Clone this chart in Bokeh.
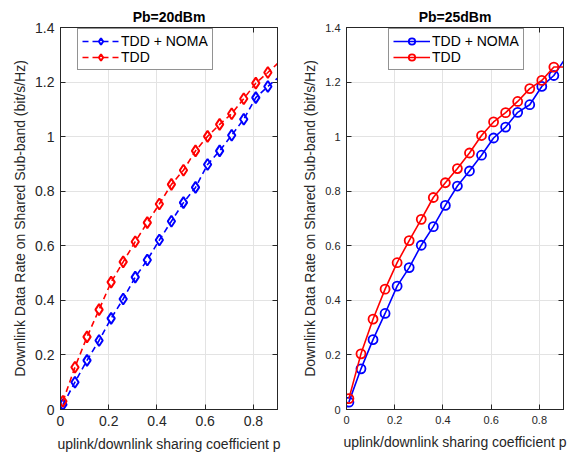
from bokeh.plotting import figure
from bokeh.layouts import row
from bokeh.models import Range1d, FixedTicker, LinearAxis, Legend, LegendItem, Title
from bokeh.embed import file_html
from bokeh.resources import INLINE

# ---------------- data ----------------
p_coef = [0.01, 0.06, 0.11, 0.16, 0.21, 0.26, 0.31, 0.36, 0.41, 0.46,
          0.51, 0.56, 0.61, 0.66, 0.71, 0.76, 0.81, 0.86, 0.91]

# Pb = 20 dBm
noma_20 = [0.018, 0.100, 0.180, 0.253, 0.334, 0.405, 0.485, 0.548, 0.621, 0.690,
           0.758, 0.814, 0.898, 0.948, 1.005, 1.064, 1.143, 1.184, 1.222]
tdd_20 = [0.030, 0.155, 0.266, 0.366, 0.467, 0.541, 0.615, 0.685, 0.753, 0.825,
          0.877, 0.948, 1.001, 1.045, 1.084, 1.139, 1.196, 1.235, 1.276]

# Pb = 25 dBm
noma_25 = [0.027, 0.149, 0.256, 0.352, 0.452, 0.520, 0.602, 0.670, 0.748, 0.819,
           0.874, 0.932, 0.995, 1.035, 1.089, 1.117, 1.184, 1.224, 1.290]
tdd_25 = [0.040, 0.204, 0.331, 0.441, 0.538, 0.619, 0.697, 0.777, 0.831, 0.883,
          0.940, 1.004, 1.054, 1.088, 1.129, 1.176, 1.206, 1.255, 1.255]

x_ticks = [0, 0.2, 0.4, 0.6, 0.8]
x_tick_labels = ["0", "0.2", "0.4", "0.6", "0.8"]
y_ticks = [0, 0.2, 0.4, 0.6, 0.8, 1.0, 1.2, 1.4]
y_tick_labels = ["0", "0.2", "0.4", "0.6", "0.8", "1", "1.2", "1.4"]

titles = ["Pb=20dBm", "Pb=25dBm"]
series_names = ["TDD + NOMA", "TDD"]
x_label = "uplink/downlink sharing coefficient p"
y_label = "Downlink Data Rate on Shared Sub-band (bit/s/Hz)"

X_MAX = 0.9
FONT = "Liberation Sans"
DARK = "#262626"
BLUE = "#0000ff"
RED = "#ff0000"
FRAME_H = 383
LEG_H = 44


def make_fig(title, width, border_left, border_right, tick_size):
    p = figure(width=width, height=454, output_backend="svg", toolbar_location=None,
               x_range=Range1d(0, X_MAX), y_range=Range1d(0, 1.4),
               min_border_left=border_left, min_border_right=border_right,
               min_border_top=27, min_border_bottom=44,
               x_axis_label=x_label, y_axis_label=y_label)
    p.title = Title(text=title, align="center", text_font=FONT, text_font_size="14px",
                    text_font_style="bold", text_color="#000000", standoff=5)
    p.background_fill_color = "white"
    p.border_fill_color = "white"
    p.outline_line_color = DARK
    p.outline_line_width = 1

    for ax, ticks, labels in ((p.xaxis[0], x_ticks, x_tick_labels),
                              (p.yaxis[0], y_ticks, y_tick_labels)):
        ax.ticker = FixedTicker(ticks=ticks)
        ax.major_label_overrides = dict(zip(ticks, labels))
        ax.axis_line_color = DARK
        ax.major_tick_line_color = DARK
        ax.major_tick_in = 5
        ax.major_tick_out = 0
        ax.minor_tick_line_color = None
        ax.major_label_text_font = FONT
        ax.major_label_text_font_size = tick_size
        ax.major_label_text_color = DARK
        ax.major_label_standoff = 6
        ax.axis_label_text_font = FONT
        ax.axis_label_text_font_size = "14px"
        ax.axis_label_text_font_style = "normal"
        ax.axis_label_text_color = DARK
        ax.axis_label_standoff = 4
    p.xaxis[0].axis_label_standoff = 7

    # box ticks on top and right (no labels)
    for loc, ticks in (("right", y_ticks), ("above", x_ticks)):
        ax = LinearAxis(ticker=FixedTicker(ticks=ticks))
        ax.major_label_text_font_size = "1px"
        ax.major_label_text_color = None
        ax.major_label_standoff = 0
        ax.axis_line_color = DARK
        ax.major_tick_line_color = DARK
        ax.major_tick_in = 5
        ax.major_tick_out = 0
        ax.minor_tick_line_color = None
        p.add_layout(ax, loc)

    p.grid.grid_line_color = "#e3e3e3"
    p.grid.grid_line_width = 1
    p.xgrid.ticker = FixedTicker(ticks=x_ticks)
    p.ygrid.ticker = FixedTicker(ticks=y_ticks)
    return p


def inside(xs, ys):
    # markers are only drawn for points inside the axes (clipped like the reference)
    pts = [(x, y) for x, y in zip(xs, ys) if x <= X_MAX]
    return [a for a, _ in pts], [b for _, b in pts]


# -------- left: Pb = 20 dBm (dashed, diamonds) --------
p1 = make_fig(titles[0], 294, 60, 17, "14px")
items1 = []
for ys, col, name in ((noma_20, BLUE, series_names[0]), (tdd_20, RED, series_names[1])):
    r_line = p1.line(p_coef, ys, line_color=col, line_width=1.6, line_dash="6 4")
    mx, my = inside(p_coef, ys)
    r_mark = p1.scatter(mx, my, marker="diamond", size=11, line_color=col,
                        line_width=2, fill_color=None)
    items1.append(LegendItem(label=name, renderers=[r_line, r_mark]))

# -------- right: Pb = 25 dBm (solid, circles) --------
p2 = make_fig(titles[1], 280, 52, 11, "11px")
items2 = []
for ys, col, name in ((noma_25, BLUE, series_names[0]), (tdd_25, RED, series_names[1])):
    r_line = p2.line(p_coef, ys, line_color=col, line_width=1.6)
    mx, my = inside(p_coef, ys)
    r_mark = p2.scatter(mx, my, marker="circle", size=9, line_color=col,
                        line_width=1.8, fill_color=None)
    items2.append(LegendItem(label=name, renderers=[r_line, r_mark]))


def add_legend(p, items, x):
    leg = Legend(items=items, location=(x, FRAME_H - LEG_H), orientation="vertical",
                 label_text_font=FONT, label_text_font_size="14px",
                 label_text_color="#000000", glyph_width=37, glyph_height=16,
                 label_standoff=2, spacing=0, padding=4, margin=0,
                 border_line_color=DARK, border_line_width=1,
                 background_fill_color="white", background_fill_alpha=1.0,
                 label_height=16)
    p.add_layout(leg, "center")


add_legend(p1, items1, 17)
add_legend(p2, items2, 42)

layout = row(p1, p2, spacing=0)
open("out.html", "w").write(file_html(layout, INLINE))
